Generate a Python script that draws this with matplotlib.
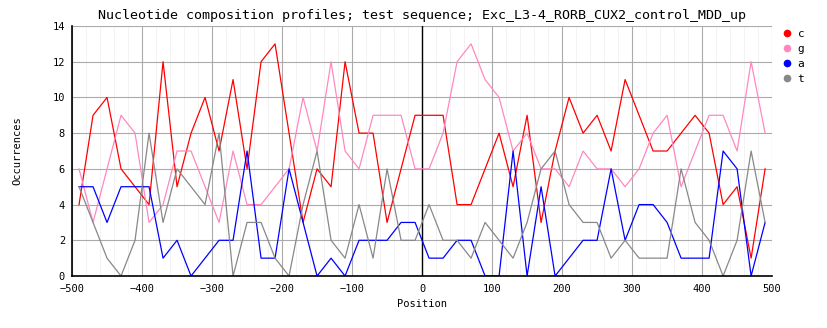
import matplotlib
matplotlib.use("Agg")
import matplotlib.pyplot as plt
from matplotlib.lines import Line2D

plt.rcParams.update({
    "font.family": "DejaVu Sans Mono",
    "font.size": 7.5,
})

# window centres along the sequence
positions = [-490, -470, -450, -430, -410, -390, -370, -350, -330, -310,
             -290, -270, -250, -230, -210, -190, -170, -150, -130, -110,
             -90, -70, -50, -30, -10, 10, 30, 50, 70, 90,
             110, 130, 150, 170, 190, 210, 230, 250, 270, 290,
             310, 330, 350, 370, 390, 410, 430, 450, 470, 490]

c_counts = [4, 9, 10, 6, 5, 4, 12, 5, 8, 10,
            7, 11, 6, 12, 13, 8, 3, 6, 5, 12,
            8, 8, 3, 6, 9, 9, 9, 4, 4, 6,
            8, 5, 9, 3, 7, 10, 8, 9, 7, 11,
            9, 7, 7, 8, 9, 8, 4, 5, 1, 6]
g_counts = [6, 3, 6, 9, 8, 3, 4, 7, 7, 5,
            3, 7, 4, 4, 5, 6, 10, 7, 12, 7,
            6, 9, 9, 9, 6, 6, 8, 12, 13, 11,
            10, 7, 8, 6, 6, 5, 7, 6, 6, 5,
            6, 8, 9, 5, 7, 9, 9, 7, 12, 8]
a_counts = [5, 5, 3, 5, 5, 5, 1, 2, 0, 1,
            2, 2, 7, 1, 1, 6, 3, 0, 1, 0,
            2, 2, 2, 3, 3, 1, 1, 2, 2, 0,
            0, 7, 0, 5, 0, 1, 2, 2, 6, 2,
            4, 4, 3, 1, 1, 1, 7, 6, 0, 3]
t_counts = [5, 3, 1, 0, 2, 8, 3, 6, 5, 4,
            8, 0, 3, 3, 1, 0, 4, 7, 2, 1,
            4, 1, 6, 2, 2, 4, 2, 2, 1, 3,
            2, 1, 3, 6, 7, 4, 3, 3, 1, 2,
            1, 1, 1, 6, 3, 2, 0, 2, 7, 3]

series = [("c", c_counts, "#ff0000"),
          ("g", g_counts, "#ff88c0"),
          ("a", a_counts, "#0000ff"),
          ("t", t_counts, "#888888")]

title = "Nucleotide composition profiles; test sequence; Exc_L3-4_RORB_CUX2_control_MDD_up"

fig = plt.figure(figsize=(8.28, 3.28), dpi=100)
ax = fig.add_axes([0.087, 0.1585, 0.8455, 0.7622])

ax.set_xlim(-500, 500)
ax.set_ylim(0, 14)
ax.set_xticks(range(-500, 501, 100))
ax.set_xticks(range(-500, 501, 20), minor=True)
ax.set_yticks(range(0, 15, 2))

ax.grid(which="minor", axis="x", color="#f3f3f3", lw=0.7, zorder=0)
ax.grid(which="major", color="#aaaaaa", lw=0.8, zorder=0.5)
ax.set_axisbelow(True)

ax.axvline(0, color="black", lw=1.0, zorder=1)

for name, vals, col in series:
    ax.plot(positions, vals, color=col, lw=0.9, label=name, zorder=2)

for s in ["top", "right"]:
    ax.spines[s].set_visible(False)
for s in ["left", "bottom"]:
    ax.spines[s].set_color("black")
    ax.spines[s].set_linewidth(1.2)

ax.tick_params(which="both", length=0)
ax.tick_params(axis="x", pad=6)
ax.tick_params(axis="y", pad=5)

ax.set_title(title, fontsize=9.6, pad=5)
ax.set_xlabel("Position", labelpad=3)
ax.set_ylabel("Occurrences", labelpad=22)

handles = [Line2D([], [], marker="o", ls="none", color=col, markersize=4.5)
           for _, _, col in series]
ax.legend(handles, [s[0] for s in series], loc="upper left",
          bbox_to_anchor=(1.0, 1.03), frameon=False, handlelength=0.8,
          handletextpad=0.6, labelspacing=0.45, fontsize=8)

fig.savefig("out.png", dpi=100)
